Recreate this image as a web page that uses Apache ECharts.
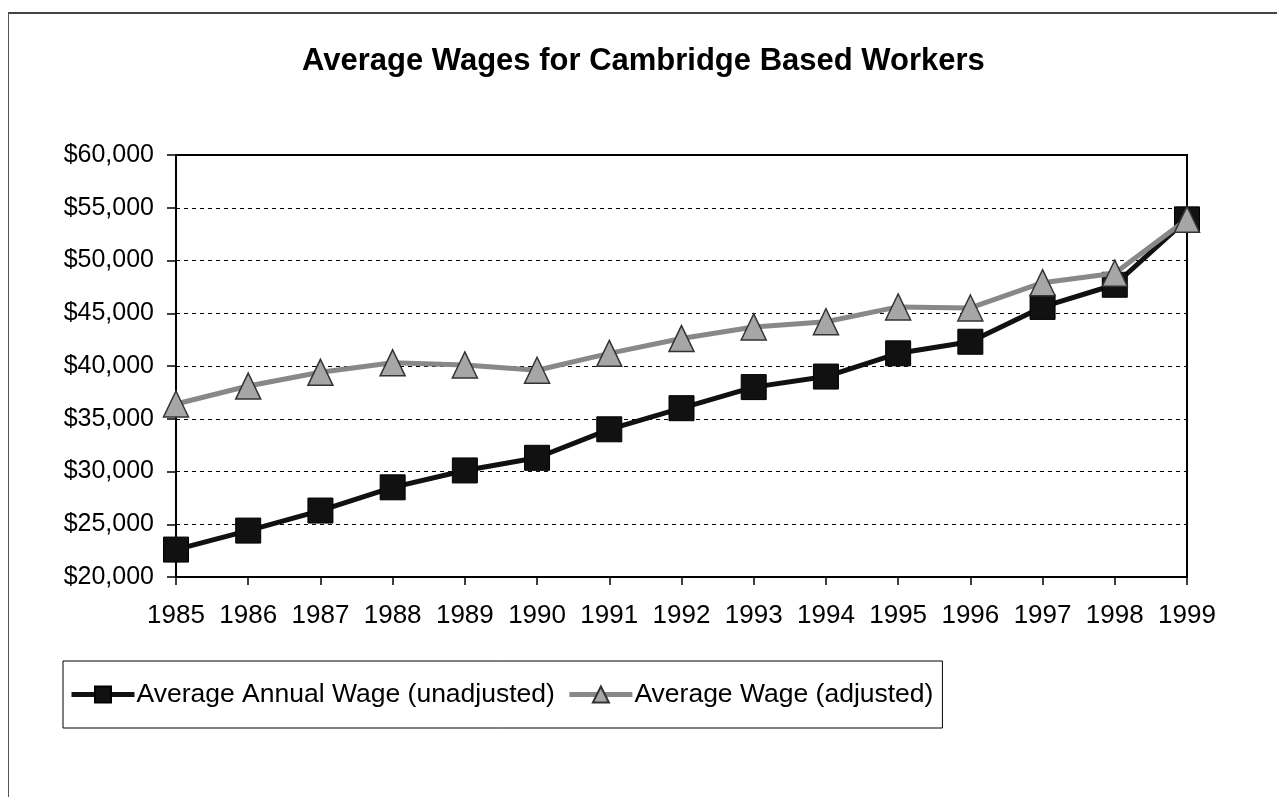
<!DOCTYPE html>
<html>
<head>
<meta charset="utf-8">
<script src="https://cdn.jsdelivr.net/npm/echarts@6/dist/echarts.min.js"></script>
<style>
  body { margin: 0; background: #fff; }
  #chart { width: 1277px; height: 797px; }
  .frame {
    position: absolute;
    left: 8px;
    top: 12px;
    right: -2px;
    bottom: -2px;
    border-left: 1px solid #555;
    border-top: 2px solid #444;
    pointer-events: none;
  }
</style>
</head>
<body>
<div id="chart"></div>
<div class="frame"></div>
<script>
const years = ['1985', '1986', '1987', '1988', '1989', '1990', '1991', '1992',
  '1993', '1994', '1995', '1996', '1997', '1998', '1999']
const unadjusted = [22600, 24400, 26300, 28500, 30100, 31300, 34000, 36000,
  38000, 39000, 41200, 42300, 45600, 47700, 53900]
const adjusted = [36400, 38100, 39400, 40300, 40100, 39600, 41200, 42600,
  43700, 44200, 45600, 45500, 47900, 48800, 53900]
const seriesNames = ['Average Annual Wage (unadjusted)', 'Average Wage (adjusted)']

const chart = echarts.init(document.getElementById('chart'))
const font = 'Liberation Sans, Arial, sans-serif'

const option = {
  backgroundColor: '#fff',
  animation: false,
  textStyle: { fontFamily: font, color: '#000' },
  title: {
    text: 'Average Wages for Cambridge Based Workers',
    left: 302,
    top: 46,
    padding: 0,
    textStyle: { fontFamily: font, fontSize: 31, fontWeight: 'bold', color: '#000' },
  },
  legend: {
    left: 63,
    top: 661,
    orient: 'horizontal',
    padding: [20, 9, 20, 6],
    itemGap: 12,
    itemWidth: 63,
    itemHeight: 20,
    borderColor: '#000',
    borderWidth: 1,
    lineStyle: { width: 5 },
    textStyle: { fontFamily: font, fontSize: 26.5, color: '#000', padding: [0, 0, 0, -3] },
    data: seriesNames,
  },
  grid: {
    left: 176,
    right: 90,
    top: 155,
    bottom: 220,
    show: true,
    borderColor: '#000',
    borderWidth: 2,
    outerBoundsMode: 'none',
  },
  xAxis: {
    type: 'category',
    data: years,
    boundaryGap: false,
    axisLine: { lineStyle: { color: '#000', width: 2 } },
    axisTick: { show: true, interval: 0, length: 8, lineStyle: { color: '#000', width: 1.5 } },
    axisLabel: { interval: 0, fontFamily: font, fontSize: 26, color: '#000', margin: 26 },
    splitLine: { show: false },
  },
  yAxis: {
    type: 'value',
    min: 20000,
    max: 60000,
    interval: 5000,
    axisLine: { show: true, lineStyle: { color: '#000', width: 2 } },
    axisTick: { show: true, length: 9, lineStyle: { color: '#000', width: 1.5 } },
    axisLabel: {
      fontFamily: font,
      fontSize: 25,
      color: '#000',
      margin: 22,
      formatter: (value) => '$' + value.toLocaleString('en-US'),
    },
    splitLine: { show: true, lineStyle: { color: '#000', width: 1, type: [4, 4] } },
  },
  series: [
    {
      name: seriesNames[0],
      type: 'line',
      data: unadjusted,
      symbol: 'rect',
      symbolSize: 25,
      lineStyle: { color: '#111', width: 5 },
      itemStyle: { color: '#111', borderColor: '#000', borderWidth: 1 },
      z: 2,
    },
    {
      name: seriesNames[1],
      type: 'line',
      data: adjusted,
      symbol: 'triangle',
      symbolSize: [25, 26],
      lineStyle: { color: '#888', width: 5 },
      itemStyle: { color: '#a6a6a6', borderColor: '#333', borderWidth: 1.5 },
      z: 3,
    },
  ],
}

chart.setOption(option)
</script>
</body>
</html>
